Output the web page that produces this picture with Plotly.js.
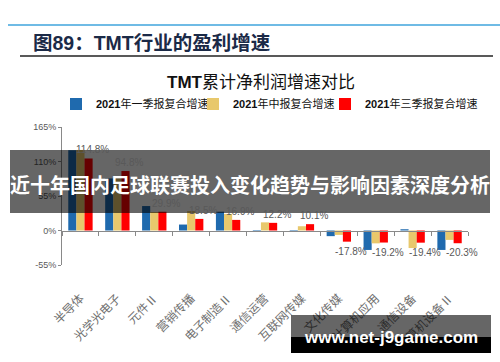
<!DOCTYPE html>
<html><head><meta charset="utf-8">
<script src="https://cdn.plot.ly/plotly-3.0.1.min.js"></script>
<style>body{margin:0;background:#fff}#chart{width:500px;height:362px}</style>
</head><body><div id="chart"></div>
<script>
const categories = ['半导体','光学光电子','元件Ⅱ','营销传播','电子制造Ⅱ','通信运营','互联网传媒','文化传媒','计算机应用','通信设备','计算机设备Ⅱ'];
const q1Growth = [128, 83, 39, 9.5, 30, -1, -1, -9, -31, 2, -31];
const h1Growth = [128.5, 83, 29.5, 31, 26.5, 13, 6.8, -7, -20.5, -28, -15];
const q3Growth = [114.8, 94.8, 29.9, 18.5, 16.9, 12.2, 10.1, -17.8, -19.2, -19.4, -20.3];
const seriesNames = ['<b>2021</b>年一季报复合增速','<b>2021</b>年中报复合增速','<b>2021</b>年三季报复合增速'];
const seriesColors = ['#1F6AAE','#E8C86C','#FF0000'];
const yTicks = [-55, 0, 55, 110, 165];
const yTickText = ['-55%','0%','55%','110%','165%'];

const W = 500, H = 362, L = 62, R = 32, T = 127, B = 97;
const pw = W - L - R, ph = H - T - B;
const px = v => (v - L) / pw;
const py = v => (H - B - v) / ph;

const FONT = 'Arial, "Liberation Sans", "Noto Sans CJK SC", sans-serif';
const CJK = '"Noto Sans CJK SC", sans-serif';
const legendIds = ['legend', 'legend2', 'legend3'];
const legendLeft = [56, 193, 325];

const traces = [q1Growth, h1Growth, q3Growth].map((vals, i) => ({
  type: 'bar', x: categories, y: vals, name: seriesNames[i], legend: legendIds[i],
  marker: {color: seriesColors[i]}, hoverinfo: 'x+y'
}));
traces.push({type: 'scatter', mode: 'none', x: categories, y: categories.map(() => 0),
  xaxis: 'x2', showlegend: false, hoverinfo: 'skip'});

const annotations = q3Growth.map((v, i) => ({
  x: categories[i], y: v, xref: 'x', yref: 'y', text: v.toFixed(1) + '%',
  showarrow: false, xshift: 12, yshift: v >= 0 ? 1 : -2,
  yanchor: v >= 0 ? 'bottom' : 'top', xanchor: 'center',
  font: {family: FONT, size: 10, color: '#595959'}
}));
annotations.push({
  xref: 'paper', yref: 'paper', x: px(31), y: py(43), xanchor: 'left', yanchor: 'middle',
  text: '<b>图89：TMT行业的盈利增速</b>', showarrow: false,
  font: {family: FONT, size: 19.5, color: '#1B2A47'}
});
annotations.push({
  xref: 'paper', yref: 'paper', x: px(250), y: py(184), xanchor: 'center', yanchor: 'middle',
  text: '<b>近十年国内足球联赛投入变化趋势与影响因素深度分析</b>', showarrow: false,
  font: {family: CJK, size: 20, color: '#FFFFFF'}
});
annotations.push({
  xref: 'paper', yref: 'paper', x: px(391), y: py(337), xanchor: 'center', yanchor: 'middle',
  text: '<b>www.net-j9game.com</b>', showarrow: false,
  font: {family: FONT, size: 17, color: '#FFFFFF'}
});

const shapes = [
  {type: 'line', xref: 'paper', yref: 'paper', x0: px(8), x1: px(500), y0: py(25), y1: py(25), line: {color: '#3FA4DC', width: 1.5}},
  {type: 'line', xref: 'paper', yref: 'paper', x0: px(20), x1: px(493), y0: py(56), y1: py(56), line: {color: '#222222', width: 1.5}},
  {type: 'rect', xref: 'paper', yref: 'paper', x0: px(10), x1: px(490), y0: py(150), y1: py(213), fillcolor: 'rgba(0,0,0,0.6)', line: {width: 0}, layer: 'above'},
  {type: 'rect', xref: 'paper', yref: 'paper', x0: px(291), x1: px(491), y0: py(315), y1: py(353), fillcolor: 'rgba(0,0,0,0.6)', line: {width: 0}, layer: 'above'},
  {type: 'rect', xref: 'paper', yref: 'paper', x0: px(291), x1: px(491), y0: py(337), y1: py(353), fillcolor: '#000000', line: {width: 0}, layer: 'above'}
];

const layout = {
  width: W, height: H, margin: {l: L, r: R, t: T, b: B},
  paper_bgcolor: '#FFFFFF', plot_bgcolor: '#FFFFFF',
  font: {family: FONT, color: '#595959'},
  title: {text: '<b>TMT</b>累计净利润增速对比', x: 261 / W, xref: 'container', y: 1 - 82 / H, yref: 'container',
    xanchor: 'center', yanchor: 'middle', font: {family: FONT, size: 17, color: '#111111'}},
  barmode: 'group', bargap: 0.34, bargroupgap: 0,
  showlegend: true,
  xaxis: {type: 'category', categoryarray: categories, range: [-0.5, categories.length - 0.5],
    showline: false, ticks: '', showgrid: false, zeroline: false, tickangle: -45,
    tickfont: {family: CJK, size: 12, color: '#707070'}, ticklabelstandoff: 23, fixedrange: true},
  xaxis2: {type: 'category', categoryarray: categories, range: [-0.5, categories.length - 0.5],
    overlaying: 'x', anchor: 'free', position: 55 / 220, showline: true, linecolor: '#898989', linewidth: 1,
    ticks: 'outside', tickson: 'boundaries', ticklen: 4, tickcolor: '#898989', showticklabels: false, showgrid: false, zeroline: false},
  yaxis: {range: [-55, 165], tickvals: yTicks, ticktext: yTickText, showline: true, linecolor: '#898989', linewidth: 1,
    ticks: 'outside', ticklen: 3, tickcolor: '#898989', showgrid: false, zeroline: false,
    tickfont: {family: FONT, size: 9, color: '#595959'}, fixedrange: true},
  annotations: annotations, shapes: shapes
};
legendIds.forEach((id, i) => {
  layout[id] = {orientation: 'h', x: legendLeft[i] / W, xref: 'container', xanchor: 'left',
    y: 1 - 104 / H, yref: 'container', yanchor: 'middle', itemwidth: 30,
    font: {family: FONT, size: 11, color: '#111111'}, bgcolor: 'rgba(0,0,0,0)'};
});

Plotly.newPlot('chart', traces, layout, {displayModeBar: false, staticPlot: true});
</script></body></html>
